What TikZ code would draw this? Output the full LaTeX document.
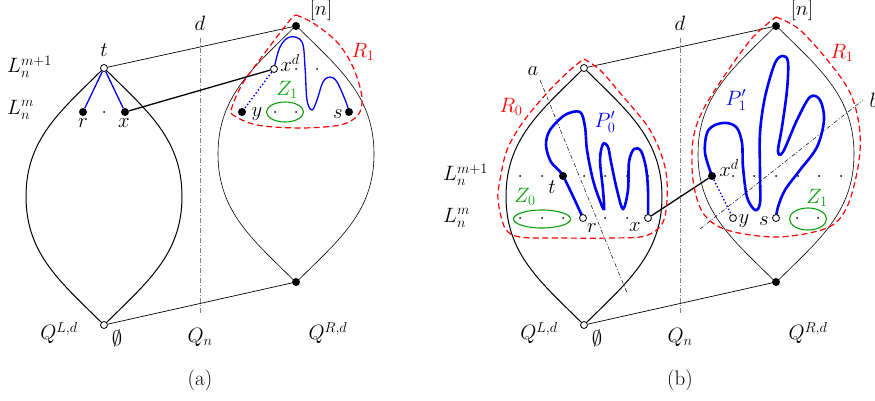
\documentclass[tikz,border=0pt]{standalone}
\usetikzlibrary{shapes.geometric,backgrounds}
\definecolor{zgreen}{RGB}{10,160,10}
\tikzset{
 bdot/.style={circle,fill=black,inner sep=0pt,minimum size=8pt},
 wdot/.style={circle,draw=black,fill=white,line width=0.8pt,inner sep=0pt,minimum size=7pt},
 sdot/.style={circle,fill=black,inner sep=0pt,minimum size=2pt},
 lensthick/.style={line width=1pt},
 lensthin/.style={line width=0.6pt},
 link/.style={line width=0.7pt},
 thicklink/.style={line width=1.3pt},
 region/.style={red,line width=1.2pt,dash pattern=on 6pt off 3.5pt},
 dline/.style={gray,line width=0.9pt,dash pattern=on 5pt off 2pt on 1pt off 2pt},
 cutline/.style={black,line width=0.5pt,dash pattern=on 4pt off 2pt on 1pt off 2pt},
 zell/.style={ellipse,draw=zgreen,line width=1.1pt,inner sep=0pt},
 bpath/.style={blue,line width=1.3pt},
 bpathb/.style={blue,line width=2.6pt},
 bdotted/.style={blue,line width=1.4pt,dash pattern=on 1.4pt off 2.2pt},
 lbl/.style={anchor=west,inner sep=0pt},
 lens/.pic={\draw (0,128.5) to[out=-135,in=90] (-78,0) to[out=-90,in=135] (0,-128.5) to[out=45,in=-90] (78,0) to[out=90,in=-45] cycle;},
}
\begin{document}
\begin{tikzpicture}[x=1pt,y=1pt,font=\fontsize{21}{25}\selectfont]
\useasboundingbox (0,0) rectangle (875,400);
% ---------------- panel (a) nodes
\node[wdot] (ta) at (104,332) {};
\node[wdot] (ea) at (104,75) {};
\node[bdot] (na) at (296,374) {};
\node[bdot] (nba) at (296,118) {};
\node[bdot] (ra) at (83,288) {};
\node[bdot] (xa) at (125,288) {};
\node[sdot] (ma) at (104,288) {};
\node[wdot] (xda) at (274,331) {};
\node[sdot] (xda1) at (296,331) {};
\node[sdot] (xda2) at (317,331) {};
\node[bdot] (ya) at (242,288) {};
\node[bdot] (sa) at (349,288) {};
\node[zell,minimum width=37pt,minimum height=20pt] (z1a) at (285,288) {};
\node[sdot] (z1a1) at (275,288) {};
\node[sdot] (z1a2) at (296,288) {};
% labels (a)
\node[lbl] (lmp1a) at (7,333) {$L_n^{m+1}$};
\node[lbl] (lma) at (7,290) {$L_n^m$};
\node (lta) at (104,350) {$t$};
\node (lra) at (83,277) {$r$};
\node (lxa) at (124,277) {$x$};
\node (lxda) at (290,337) {$x^d$};
\node (lya) at (257,286) {$y$};
\node (lsa) at (338,286) {$s$};
\node[text=zgreen] (lz1a) at (287,310) {$Z_1$};
\node[text=red] (lr1a) at (363,348) {$R_1$};
\node (lna) at (321,390) {$[n]$};
\node (lqla) at (59,67) {$Q^{L,d}$};
\node (lea) at (117,62) {$\emptyset$};
\node (lqna) at (200,63) {$Q_n$};
\node (lqra) at (328,67) {$Q^{R,d}$};
\node (lda) at (200,377) {$d$};
\node (capa) at (200,20) {(a)};
\coordinate (da1) at (200,362);
\coordinate (da2) at (200,85);
% ---------------- panel (b) nodes
\node[wdot] (tb0) at (584,332) {};
\node[wdot] (eb) at (584,75) {};
\node[bdot] (nb) at (776,374) {};
\node[bdot] (nbb) at (776,118) {};
\node[sdot] (p1) at (520,224) {};
\node[sdot] (p2) at (542,224) {};
\node[bdot] (tb) at (563,224) {};
\node[sdot] (p4) at (584,224) {};
\node[sdot] (p5) at (605,224) {};
\node[sdot] (p6) at (627,224) {};
\node[sdot] (p7) at (648,224) {};
\node[zell,minimum width=57pt,minimum height=18pt] (z0b) at (542,181) {};
\node[sdot] (q1) at (520,182) {};
\node[sdot] (q2) at (542,182) {};
\node[sdot] (q3) at (563,182) {};
\node[wdot] (rb) at (583,182) {};
\node[sdot] (q5) at (605,182) {};
\node[sdot] (q6) at (627,182) {};
\node[wdot] (xb) at (648,182) {};
\node[bdot] (xdb) at (712,224) {};
\node[sdot] (u1) at (733,224) {};
\node[sdot] (u2) at (754,224) {};
\node[sdot] (u3) at (776,224) {};
\node[sdot] (u4) at (798,224) {};
\node[sdot] (u5) at (819,224) {};
\node[sdot] (u6) at (841,224) {};
\node[wdot] (yb) at (733,182) {};
\node[wdot] (sb) at (776,182) {};
\node[zell,minimum width=37pt,minimum height=22pt] (z1b) at (808,181) {};
\node[sdot] (v1) at (797,182) {};
\node[sdot] (v2) at (818,182) {};
% labels (b)
\node[lbl] (lmp1b) at (443,225) {$L_n^{m+1}$};
\node[lbl] (lmb) at (443,182) {$L_n^m$};
\node (ltb) at (552,213) {$t$};
\node (lrb) at (592,172) {$r$};
\node (lxb) at (635,173) {$x$};
\node[text=zgreen] (lz0b) at (525,203) {$Z_0$};
\node[text=blue] (lp0b) at (605,278) {$P_0'$};
\node[text=red] (lr0b) at (511,293) {$R_0$};
\node (lab) at (533,329) {$a$};
\node (lxdb) at (729,232) {$x^d$};
\node (lyb) at (744,179) {$y$};
\node (lsb) at (764,179) {$s$};
\node[text=zgreen] (lz1b) at (817,202) {$Z_1$};
\node[text=blue] (lp1b) at (736,300) {$P_1'$};
\node[text=red] (lr1b) at (842,347) {$R_1$};
\node (lnb) at (802,390) {$[n]$};
\node (lbb) at (874,300) {$b$};
\node (lqlb) at (539,67) {$Q^{L,d}$};
\node (leb) at (597,62) {$\emptyset$};
\node (lqnb) at (680,63) {$Q_n$};
\node (lqrb) at (808,67) {$Q^{R,d}$};
\node (ldb) at (680,377) {$d$};
\node (capb) at (680,20) {(b)};
\coordinate (db1) at (680,362);
\coordinate (db2) at (680,85);
\coordinate (ca1) at (540,320);
\coordinate (ca2) at (627,107);
\coordinate (cb1) at (700,171);
\coordinate (cb2) at (863,300);
% ---------------- lines underneath
\begin{scope}[on background layer]
 % (a)
 \pic[lensthick] at (104,203.5) {lens};
 \pic[lensthin] at (296,246) {lens};
 \draw[link] (ta) -- (na);
 \draw[link] (ea) -- (nba);
 \draw[dline] (da1) -- (da2);
 \draw[bpath] (ta) -- (ra);
 \draw[bpath] (ta) -- (xa);
 \draw[thicklink] (xa) -- (xda);
 \draw[bdotted] (xda) -- (ya);
 \draw[bpath] plot[smooth,tension=0.6] coordinates {(xda.center) (280,353) (290,363) (302,358) (305,333) (307,300) (312,290) (317,300) (323,318) (330,323) (337,318) (346,298) (sa.center)};
 \draw[region] plot[smooth,tension=0.55] coordinates {(296,385) (313,377) (337,358) (353,333) (362,303) (358,285) (340,275) (300,272) (257,275) (233,285) (232,293) (243,317) (267,350) (290,380) (296,385)};
 % (b)
 \pic[lensthick] at (584,203.5) {lens};
 \pic[lensthin] at (776,246) {lens};
 \draw[link] (tb0) -- (nb);
 \draw[link] (eb) -- (nbb);
 \draw[dline] (db1) -- (db2);
 \draw[cutline] (ca1) -- (ca2);
 \draw[cutline] (cb1) -- (cb2);
 \draw[thicklink] (xb) -- (xdb);
 \draw[bdotted] (xdb) -- (yb);
 \draw[bpathb] plot[smooth,tension=0.55] coordinates {(rb.center) (tb.center) (551,238) (546,255) (550,270) (565,285) (580,288) (585,273) (587,250) (593,220) (600,199) (604,191) (603,210) (600,240) (603,256) (608,253) (611,238) (617,210) (623,191) (628,210) (629,238) (634,251) (641,249) (646,232) (648,210) (xb.center)};
 \draw[bpathb] plot[smooth,tension=0.55] coordinates {(xdb.center) (705,247) (707,267) (715,275) (727,277) (737,272) (742,257) (743,233) (747,203) (755,190) (760,197) (760,227) (760,267) (765,303) (775,337) (783,344) (788,338) (787,310) (782,273) (778,249) (783,248) (797,280) (810,303) (820,300) (824,280) (817,253) (800,230) (785,210) (778,193) (sb.center)};
 \draw[region] plot[smooth,tension=0.55] coordinates {(584,341) (600,330) (620,307) (650,270) (665,233) (667,200) (662,176) (645,164) (613,162) (560,162) (520,163) (505,172) (498,200) (500,220) (507,250) (523,278) (547,307) (570,330) (584,341)};
 \draw[region] plot[smooth,tension=0.55] coordinates {(776,383) (800,370) (833,333) (852,303) (860,267) (858,233) (847,193) (827,172) (777,163) (727,170) (703,187) (693,220) (693,260) (703,290) (727,328) (753,363) (776,383)};
\end{scope}
\end{tikzpicture}
\end{document}
